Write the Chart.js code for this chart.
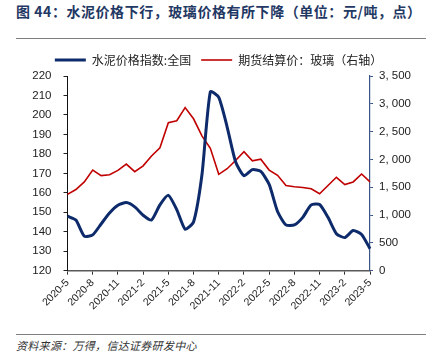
<!DOCTYPE html>
<html>
<head>
<meta charset="utf-8">
<script src="https://cdn.jsdelivr.net/npm/chart.js@4"></script>
<style>
  html, body { margin: 0; padding: 0; background: #fff; }
  #wrap { position: relative; width: 437px; height: 364px; overflow: hidden; }
  #title {
    position: absolute; left: 16px; top: 1px;
    font: bold 14px "Noto Sans CJK SC", sans-serif; color: #1f3864;
    white-space: pre; letter-spacing: 0.55px;
  }
  .rule { position: absolute; left: 16px; width: 410px; height: 1px; background: #7f7f7f; }
  #source {
    position: absolute; left: 16px; top: 337px;
    font: italic 11px "Noto Sans CJK SC", sans-serif; color: #333;
    white-space: nowrap; letter-spacing: 0.3px;
  }
  #chartBox { position: absolute; left: 0; top: 40px; width: 437px; height: 290px; }
</style>
</head>
<body>
<div id="wrap">
  <div id="title">图 44：水泥价格下行，玻璃价格有所下降（单位：元/吨，点）</div>
  <div class="rule" style="top:38px"></div>
  <div id="chartBox"><canvas id="c"></canvas></div>
  <div class="rule" style="top:334px"></div>
  <div id="source">资料来源：万得，信达证券研发中心</div>
</div>
<script>
  // monthly, 2020-5 .. 2023-5
  var months = [
    '2020-5', '2020-6', '2020-7', '2020-8', '2020-9', '2020-10', '2020-11', '2020-12',
    '2021-1', '2021-2', '2021-3', '2021-4', '2021-5', '2021-6', '2021-7', '2021-8',
    '2021-9', '2021-10', '2021-11', '2021-12', '2022-1', '2022-2', '2022-3', '2022-4',
    '2022-5', '2022-6', '2022-7', '2022-8', '2022-9', '2022-10', '2022-11', '2022-12',
    '2023-1', '2023-2', '2023-3', '2023-4', '2023-5'
  ];

  // 水泥价格指数:全国 (left axis)
  var cementIndex = [
    148, 146, 137.7, 138.4, 144, 149.6, 153.6, 155,
    152.8, 148.5, 146, 153.8, 158.7, 151.4, 141.3, 145,
    169.3, 211.9, 209, 193.8, 176, 168.8, 171.9, 171,
    164.3, 150.4, 143.5, 143.5, 147.4, 153.8, 154, 147.4,
    139, 137, 140.6, 138.6, 131.3
  ];

  // 期货结算价:玻璃 (right axis)
  var glassPrice = [
    1372, 1460, 1596, 1809, 1709, 1726, 1803, 1916,
    1780, 1886, 2063, 2211, 2660, 2696, 2932, 2731,
    2424, 2199, 1732, 1833, 1981, 2140, 1975, 2004,
    1809, 1715, 1531, 1508, 1496, 1472, 1383, 1531,
    1679, 1549, 1596, 1738, 1596
  ];

  var NAVY = '#0d2a6b';
  var RED = '#c00000';
  var TICK_FONT = { family: '"Liberation Sans", Arial, sans-serif', size: 11.5 };

  function withComma(v) {
    var s = String(v);
    if (s.length > 3) s = s.slice(0, s.length - 3) + ', ' + s.slice(s.length - 3);
    return s;
  }

  new Chart(document.getElementById('c'), {
    type: 'line',
    data: {
      labels: months,
      datasets: [
        {
          label: '水泥价格指数:全国',
          data: cementIndex,
          yAxisID: 'y',
          borderColor: NAVY,
          backgroundColor: NAVY,
          borderWidth: 3,
          pointRadius: 0,
          tension: 0.2
        },
        {
          label: '期货结算价：玻璃（右轴）',
          data: glassPrice,
          yAxisID: 'y1',
          borderColor: RED,
          backgroundColor: RED,
          borderWidth: 1.6,
          pointRadius: 0,
          tension: 0
        }
      ]
    },
    options: {
      responsive: true,
      maintainAspectRatio: false,
      animation: false,
      layout: { padding: { top: 4, left: 0, right: 0, bottom: 0 } },
      plugins: {
        tooltip: { enabled: false },
        legend: {
          display: true,
          position: 'top',
          labels: {
            usePointStyle: true,
            pointStyle: 'line',
            pointStyleWidth: 31,
            boxHeight: 12,
            padding: 10,
            color: '#222',
            font: { family: '"Noto Sans CJK SC", sans-serif', size: 12 }
          }
        }
      },
      scales: {
        x: {
          offset: false,
          grid: {
            drawOnChartArea: false,
            drawTicks: true,
            tickLength: 4,
            tickColor: function (ctx) { return ctx.index % 3 === 0 ? '#333' : 'rgba(0,0,0,0)'; }
          },
          border: { color: '#595959', width: 1.5 },
          ticks: {
            autoSkip: false,
            maxRotation: 45,
            minRotation: 45,
            padding: 2,
            color: '#222',
            font: { family: '"Liberation Sans", Arial, sans-serif', size: 10.5 },
            callback: function (v, i) { return i % 3 === 0 ? months[i] : ''; }
          },
          afterFit: function (scale) { scale.height = 59.3; }
        },
        y: {
          position: 'left',
          min: 120,
          max: 220,
          grid: { drawOnChartArea: false, tickLength: 4, tickColor: '#222' },
          border: { color: '#111', width: 1 },
          ticks: { stepSize: 10, padding: 12, color: '#222', font: TICK_FONT },
          afterFit: function (scale) { scale.width = 67.5; }
        },
        y1: {
          position: 'right',
          min: 0,
          max: 3500,
          grid: { drawOnChartArea: false, tickLength: 3, tickColor: '#3a5688' },
          border: { color: '#3a5688', width: 1.2 },
          ticks: {
            stepSize: 500,
            padding: 6,
            color: '#222',
            font: TICK_FONT,
            callback: function (v) { return withComma(v); }
          },
          afterFit: function (scale) { scale.width = 67; }
        }
      }
    }
  });
</script>
</body>
</html>
